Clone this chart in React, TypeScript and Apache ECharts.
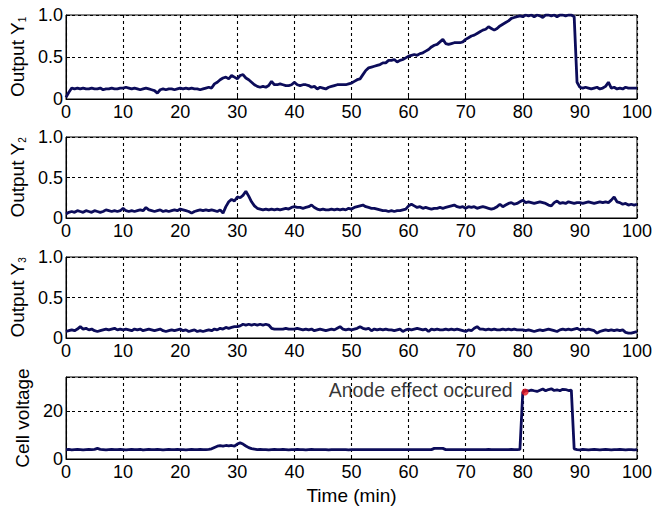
import React, { useEffect, useRef } from "react";
import * as echarts from "echarts";

// time axis: 0 .. 100 min, one sample per half minute
const timeMin: number[] = Array.from({ length: 201 }, (_, i) => i * 0.5);
const xTicks = [0, 10, 20, 30, 40, 50, 60, 70, 80, 90, 100];

const outputY1: number[] = [
  0.02, 0.08, 0.13, 0.12, 0.13, 0.12, 0.13, 0.12, 0.12, 0.13,
  0.12, 0.12, 0.13, 0.11, 0.12, 0.12, 0.13, 0.12, 0.12, 0.13,
  0.13, 0.14, 0.13, 0.12, 0.13, 0.12, 0.11, 0.12, 0.13, 0.12,
  0.11, 0.10, 0.07, 0.11, 0.12, 0.11, 0.12, 0.12, 0.11, 0.12,
  0.13, 0.12, 0.13, 0.12, 0.13, 0.12, 0.12, 0.11, 0.12, 0.13,
  0.14, 0.13, 0.18, 0.20, 0.23, 0.25, 0.26, 0.24, 0.28, 0.26,
  0.24, 0.28, 0.29, 0.25, 0.23, 0.20, 0.17, 0.15, 0.14, 0.15,
  0.14, 0.16, 0.21, 0.17, 0.17, 0.18, 0.17, 0.16, 0.16, 0.17,
  0.20, 0.17, 0.16, 0.17, 0.17, 0.16, 0.14, 0.15, 0.12, 0.14,
  0.13, 0.12, 0.14, 0.15, 0.16, 0.17, 0.17, 0.17, 0.17, 0.18,
  0.19, 0.21, 0.23, 0.24, 0.29, 0.34, 0.37, 0.38, 0.39, 0.40,
  0.41, 0.43, 0.43, 0.46, 0.46, 0.47, 0.44, 0.46, 0.47, 0.49,
  0.51, 0.52, 0.53, 0.52, 0.54, 0.55, 0.57, 0.59, 0.62, 0.64,
  0.65, 0.68, 0.71, 0.66, 0.65, 0.66, 0.67, 0.67, 0.67, 0.68,
  0.71, 0.73, 0.75, 0.76, 0.78, 0.80, 0.82, 0.83, 0.86, 0.84,
  0.82, 0.84, 0.87, 0.89, 0.91, 0.93, 0.96, 0.97, 0.98, 0.99,
  0.98, 1.0, 0.99, 1.0, 0.98, 1.0, 0.99, 0.97, 1.0, 1.0,
  0.99, 1.0, 0.98, 1.0, 1.0, 0.99, 1.0, 1.0, 0.98, 0.20,
  0.14, 0.13, 0.14, 0.13, 0.12, 0.13, 0.14, 0.12, 0.13, 0.15,
  0.20, 0.13, 0.14, 0.12, 0.13, 0.12, 0.14, 0.13, 0.13, 0.13,
  0.13,
];

const outputY2: number[] = [
  0.05, 0.07, 0.08, 0.07, 0.09, 0.08, 0.07, 0.09, 0.08, 0.07,
  0.09, 0.08, 0.07, 0.08, 0.10, 0.09, 0.08, 0.09, 0.08, 0.09,
  0.12, 0.09, 0.08, 0.09, 0.08, 0.09, 0.10, 0.09, 0.13, 0.10,
  0.09, 0.08, 0.09, 0.10, 0.08, 0.09, 0.08, 0.09, 0.10, 0.09,
  0.11, 0.10, 0.09, 0.08, 0.06, 0.08, 0.09, 0.10, 0.09, 0.10,
  0.09, 0.10, 0.09, 0.08, 0.10, 0.06, 0.14, 0.20, 0.23, 0.21,
  0.26, 0.25, 0.28, 0.33, 0.27, 0.20, 0.15, 0.12, 0.11, 0.10,
  0.11, 0.10, 0.11, 0.10, 0.11, 0.10, 0.11, 0.12, 0.11, 0.13,
  0.14, 0.13, 0.13, 0.12, 0.13, 0.14, 0.16, 0.13, 0.11, 0.10,
  0.11, 0.10, 0.10, 0.11, 0.10, 0.11, 0.10, 0.11, 0.10, 0.12,
  0.11, 0.13, 0.14, 0.15, 0.16, 0.14, 0.13, 0.12, 0.12, 0.11,
  0.10, 0.09, 0.09, 0.08, 0.09, 0.08, 0.09, 0.09, 0.10, 0.11,
  0.15, 0.17, 0.15, 0.13, 0.14, 0.12, 0.13, 0.12, 0.11, 0.12,
  0.12, 0.13, 0.12, 0.13, 0.14, 0.15, 0.16, 0.14, 0.13, 0.14,
  0.12, 0.14, 0.13, 0.14, 0.12, 0.13, 0.14, 0.13, 0.12, 0.11,
  0.12, 0.14, 0.17, 0.14, 0.16, 0.18, 0.19, 0.17, 0.18, 0.20,
  0.22, 0.19, 0.20, 0.19, 0.18, 0.19, 0.20, 0.19, 0.18, 0.16,
  0.15, 0.19, 0.21, 0.18, 0.19, 0.18, 0.20, 0.19, 0.18, 0.19,
  0.19, 0.18, 0.19, 0.20, 0.19, 0.18, 0.19, 0.20, 0.19, 0.20,
  0.19, 0.22, 0.26, 0.20, 0.19, 0.17, 0.18, 0.16, 0.17, 0.16,
  0.17,
];

const outputY3: number[] = [
  0.08, 0.09, 0.10, 0.09, 0.11, 0.14, 0.11, 0.12, 0.10, 0.11,
  0.09, 0.08, 0.09, 0.10, 0.11, 0.10, 0.11, 0.12, 0.10, 0.11,
  0.10, 0.11, 0.10, 0.09, 0.11, 0.10, 0.11, 0.09, 0.10, 0.11,
  0.10, 0.09, 0.10, 0.11, 0.09, 0.08, 0.09, 0.10, 0.09, 0.10,
  0.11, 0.09, 0.10, 0.08, 0.09, 0.10, 0.08, 0.09, 0.08, 0.09,
  0.10, 0.09, 0.11, 0.10, 0.12, 0.11, 0.13, 0.12, 0.13, 0.14,
  0.14, 0.15, 0.17, 0.16, 0.17, 0.16, 0.17, 0.16, 0.17, 0.16,
  0.17, 0.16, 0.12, 0.11, 0.11, 0.11, 0.11, 0.12, 0.11, 0.11,
  0.11, 0.12, 0.11, 0.10, 0.11, 0.10, 0.11, 0.09, 0.10, 0.11,
  0.10, 0.09, 0.10, 0.11, 0.10, 0.12, 0.14, 0.11, 0.10, 0.11,
  0.10, 0.11, 0.12, 0.14, 0.12, 0.11, 0.12, 0.09, 0.11, 0.10,
  0.11, 0.10, 0.11, 0.10, 0.10, 0.09, 0.10, 0.11, 0.08, 0.10,
  0.11, 0.10, 0.11, 0.12, 0.11, 0.10, 0.11, 0.08, 0.11, 0.10,
  0.11, 0.10, 0.10, 0.11, 0.10, 0.11, 0.10, 0.11, 0.10, 0.09,
  0.08, 0.10, 0.09, 0.12, 0.14, 0.11, 0.11, 0.10, 0.11, 0.10,
  0.11, 0.10, 0.10, 0.11, 0.10, 0.11, 0.10, 0.11, 0.10, 0.10,
  0.10, 0.09, 0.10, 0.09, 0.08, 0.09, 0.10, 0.09, 0.10, 0.11,
  0.10, 0.09, 0.08, 0.10, 0.11, 0.10, 0.11, 0.10, 0.11, 0.12,
  0.10, 0.11, 0.10, 0.11, 0.10, 0.09, 0.06, 0.08, 0.09, 0.10,
  0.09, 0.10, 0.09, 0.10, 0.09, 0.10, 0.07, 0.06, 0.06, 0.07,
  0.08,
];

const cellVoltage: number[] = [
  3.9, 4.0, 3.8, 3.9, 4.0, 3.9, 3.8, 3.9, 4.0, 3.9,
  4.0, 4.4, 4.0, 3.9, 3.8, 3.9, 4.0, 3.9, 3.9, 4.0,
  3.9, 3.8, 3.9, 4.0, 3.9, 3.9, 4.0, 3.8, 3.9, 4.0,
  3.9, 3.9, 4.0, 3.9, 3.8, 3.9, 4.0, 3.9, 3.9, 4.0,
  3.9, 3.9, 3.8, 3.9, 4.0, 3.9, 3.9, 4.0, 3.9, 3.9,
  4.0, 4.2, 4.8, 5.3, 5.5, 5.3, 5.6, 5.4, 5.6, 5.3,
  6.2, 6.7, 6.2, 5.4, 4.7, 4.3, 4.1, 3.9, 4.0, 3.9,
  3.9, 3.8, 3.9, 4.0, 3.9, 3.9, 4.0, 3.9, 3.8, 3.9,
  3.9, 4.0, 3.9, 3.9, 3.8, 3.9, 4.0, 3.9, 3.9, 3.9,
  3.9, 3.9, 3.8, 3.9, 3.9, 3.9, 3.9, 3.9, 3.9, 3.8,
  3.9, 3.9, 3.9, 3.9, 3.9, 3.9, 3.9, 3.9, 3.9, 3.9,
  3.9, 3.9, 3.9, 3.9, 3.9, 3.9, 3.9, 3.9, 3.9, 3.9,
  3.9, 3.9, 3.9, 3.9, 3.9, 3.9, 3.9, 3.9, 3.9, 4.4,
  4.4, 4.4, 4.4, 3.9, 3.9, 3.9, 3.9, 3.9, 3.9, 3.9,
  3.9, 3.9, 3.9, 3.9, 3.9, 3.9, 3.9, 3.9, 4.0, 3.9,
  3.9, 3.9, 3.9, 3.9, 3.9, 3.9, 4.0, 3.9, 3.9, 4.0,
  27.6, 28.5, 28.2, 28.6, 28.3, 28.0, 28.5, 29.0, 28.3, 28.8,
  29.1, 28.4, 28.7, 28.3, 28.9, 28.8, 28.4, 28.6, 4.2, 3.9,
  3.8, 4.0, 3.9, 3.8, 3.9, 4.0, 3.9, 3.8, 3.9, 4.0,
  3.9, 3.8, 3.9, 3.9, 4.0, 3.9, 3.8, 3.9, 3.9, 3.8,
  3.9,
];

const anodeEffectPoint: [number, number] = [80.4, 27.8];
const anodeEffectLabel = "Anode effect occured";

const panelNames = ["Y", "Y", "Y", "Cell voltage"];
const panelSubs = ["1", "2", "3", ""];

export default function App() {
  const ref = useRef<HTMLDivElement>(null);

  useEffect(() => {
    if (!ref.current) return;
    const chart = echarts.init(ref.current, undefined, { renderer: "svg" });
    const font = "'Liberation Sans', Arial, Helvetica, sans-serif";
    const textColor = "#000";
    const lineColor = "#0c0c5a";

    const grids = [
      { top: 15, height: 84 },
      { top: 137, height: 81 },
      { top: 257, height: 81 },
      { top: 377, height: 82 },
    ].map((g) => ({
      left: 66,
      width: 572,
      top: g.top,
      height: g.height,
      show: true,
      borderColor: "#000",
      borderWidth: 1,
      backgroundColor: "#fff",
    }));

    const splitLine = {
      show: true,
      lineStyle: { color: "#000", width: 1.1, type: [3, 3] as number[] },
    };

    const xAxes = grids.map((_, i) => ({
      type: "value" as const,
      gridIndex: i,
      min: 0,
      max: 100,
      interval: 10,
      axisLine: { show: true, lineStyle: { color: "#000", width: 1 } },
      axisTick: { show: true, inside: true, length: 4, lineStyle: { color: "#000" } },
      axisLabel: {
        fontSize: 18,
        color: textColor,
        fontFamily: font,
        margin: 4,
        showMinLabel: true,
        showMaxLabel: true,
        formatter: (v: number) => (xTicks.includes(v) ? String(v) : ""),
      },
      splitLine,
      ...(i === 3
        ? {
            name: "Time (min)",
            nameLocation: "middle" as const,
            nameGap: 27,
            nameTextStyle: { fontSize: 19, color: textColor, fontFamily: font },
          }
        : {}),
    }));

    const yAxes = grids.map((_, i) => {
      const isVolt = i === 3;
      return {
        type: "value" as const,
        gridIndex: i,
        min: 0,
        max: isVolt ? 34 : 1,
        interval: isVolt ? 20 : 0.5,
        axisLine: { show: true, lineStyle: { color: "#000", width: 1 } },
        axisTick: { show: true, inside: true, length: 4, lineStyle: { color: "#000" } },
        axisLabel: {
          fontSize: 18,
          color: textColor,
          fontFamily: font,
          margin: 3,
          showMinLabel: true,
          showMaxLabel: true,
          formatter: (v: number) => {
            if (isVolt) return v % 20 === 0 ? String(v) : "";
            if (v === 0) return "0";
            return v.toFixed(1);
          },
        },
        splitLine,
        name: isVolt ? "{a|Cell voltage}" : "{a|Output " + panelNames[i] + "}{b|" + panelSubs[i] + "}",
        nameLocation: "middle" as const,
        nameGap: isVolt ? 34 : 36,
        nameTextStyle: {
          fontFamily: font,
          color: textColor,
          rich: {
            a: { fontSize: 19, fontFamily: font, color: textColor, lineHeight: 22, verticalAlign: "bottom" },
            b: { fontSize: 10, fontFamily: font, color: textColor, lineHeight: 12, verticalAlign: "bottom" },
          },
        },
      };
    });

    const seriesValues = [outputY1, outputY2, outputY3, cellVoltage];
    const lineSeries = seriesValues.map((vals, i) => ({
      type: "line" as const,
      xAxisIndex: i,
      yAxisIndex: i,
      showSymbol: false,
      symbol: "none",
      clip: true,
      data: vals.map((v, k) => [timeMin[k], v]),
      lineStyle: { color: lineColor, width: 2.8 },
      z: 3,
    }));

    chart.setOption({
      animation: false,
      backgroundColor: "#fff",
      grid: grids,
      xAxis: xAxes,
      yAxis: yAxes,
      series: [
        ...lineSeries,
        {
          type: "scatter",
          xAxisIndex: 3,
          yAxisIndex: 3,
          data: [anodeEffectPoint],
          symbolSize: 7,
          itemStyle: { color: "#e8141e" },
          z: 5,
          label: {
            show: true,
            position: "left",
            distance: 9,
            offset: [0, -2],
            formatter: anodeEffectLabel,
            fontSize: 19.5,
            color: textColor,
            fontFamily: font,
          },
        },
      ],
    });

    return () => chart.dispose();
  }, []);

  return (
    <div
      ref={ref}
      style={{ position: "absolute", left: 0, top: 0, width: 655, height: 506, background: "#fff" }}
    />
  );
}
